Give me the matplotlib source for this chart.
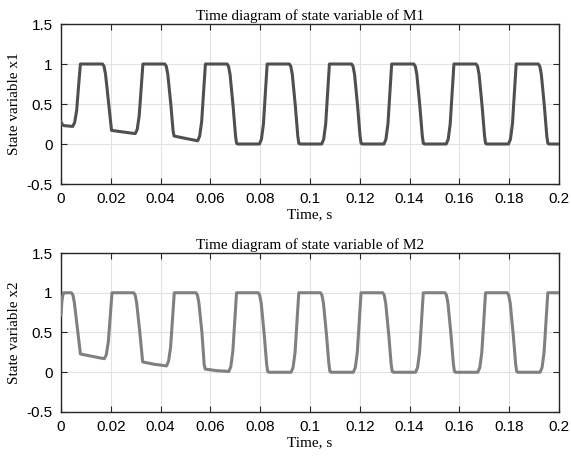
import numpy as np
import matplotlib
matplotlib.use('Agg')
import matplotlib.pyplot as plt

# Values: time (s) and state variable, edge by edge
t1 = [0.0, 0.0005, 0.0012,
      0.0047, 0.0055, 0.0063, 0.0070, 0.0078,
      0.0167, 0.0173, 0.0179, 0.0191, 0.0203, 0.0250,
      0.0298, 0.0306, 0.0314, 0.0321, 0.0329,
      0.0417, 0.0423, 0.0429, 0.0441, 0.0450, 0.0454, 0.0500,
      0.0549, 0.0557, 0.0565, 0.0572, 0.0580,
      0.0667, 0.0673, 0.0679, 0.0691, 0.0701, 0.0705, 0.0709,
      0.0797, 0.0805, 0.0813, 0.0820, 0.0828,
      0.0917, 0.0923, 0.0929, 0.0941, 0.0951, 0.0955, 0.0959,
      0.1047, 0.1055, 0.1063, 0.1070, 0.1078,
      0.1167, 0.1173, 0.1179, 0.1191, 0.1201, 0.1205, 0.1209,
      0.1297, 0.1305, 0.1313, 0.1320, 0.1328,
      0.1417, 0.1423, 0.1429, 0.1441, 0.1451, 0.1455, 0.1459,
      0.1547, 0.1555, 0.1563, 0.1570, 0.1578,
      0.1667, 0.1673, 0.1679, 0.1691, 0.1701, 0.1705, 0.1709,
      0.1797, 0.1805, 0.1813, 0.1820, 0.1828,
      0.1917, 0.1923, 0.1929, 0.1941, 0.1951, 0.1955, 0.1959,
      0.2000]
x1 = [0.28, 0.245, 0.23,
      0.22, 0.27, 0.42, 0.70, 1.0,
      1.0, 0.97, 0.87, 0.52, 0.17, 0.15,
      0.13, 0.18, 0.35, 0.65, 1.0,
      1.0, 0.97, 0.87, 0.50, 0.17, 0.10, 0.07,
      0.04, 0.10, 0.28, 0.62, 1.0,
      1.0, 0.97, 0.87, 0.48, 0.10, 0.01, 0.0,
      0.0, 0.06, 0.25, 0.60, 1.0,
      1.0, 0.97, 0.87, 0.48, 0.10, 0.01, 0.0,
      0.0, 0.06, 0.25, 0.60, 1.0,
      1.0, 0.97, 0.87, 0.48, 0.10, 0.01, 0.0,
      0.0, 0.06, 0.25, 0.60, 1.0,
      1.0, 0.97, 0.87, 0.48, 0.10, 0.01, 0.0,
      0.0, 0.06, 0.25, 0.60, 1.0,
      1.0, 0.97, 0.87, 0.48, 0.10, 0.01, 0.0,
      0.0, 0.06, 0.25, 0.60, 1.0,
      1.0, 0.97, 0.87, 0.48, 0.10, 0.01, 0.0,
      0.0]

t2 = [0.0, 0.0004, 0.0008, 0.0011,
      0.0042, 0.0048, 0.0054, 0.0066, 0.0078, 0.0125,
      0.0174, 0.0182, 0.0190, 0.0197, 0.0205,
      0.0292, 0.0298, 0.0304, 0.0316, 0.0328, 0.0375,
      0.0424, 0.0432, 0.0440, 0.0447, 0.0455,
      0.0542, 0.0548, 0.0554, 0.0566, 0.0575, 0.0579, 0.0625,
      0.0674, 0.0682, 0.0690, 0.0697, 0.0705,
      0.0792, 0.0798, 0.0804, 0.0816, 0.0826, 0.0830, 0.0834,
      0.0924, 0.0932, 0.0940, 0.0947, 0.0955,
      0.1042, 0.1048, 0.1054, 0.1066, 0.1076, 0.1080, 0.1084,
      0.1174, 0.1182, 0.1190, 0.1197, 0.1205,
      0.1292, 0.1298, 0.1304, 0.1316, 0.1326, 0.1330, 0.1334,
      0.1424, 0.1432, 0.1440, 0.1447, 0.1455,
      0.1542, 0.1548, 0.1554, 0.1566, 0.1576, 0.1580, 0.1584,
      0.1674, 0.1682, 0.1690, 0.1697, 0.1705,
      0.1792, 0.1798, 0.1804, 0.1816, 0.1826, 0.1830, 0.1834,
      0.1924, 0.1932, 0.1940, 0.1947, 0.1955,
      0.2000]
x2 = [0.72, 0.90, 0.98, 1.0,
      1.0, 0.97, 0.87, 0.55, 0.23, 0.20,
      0.17, 0.22, 0.38, 0.67, 1.0,
      1.0, 0.97, 0.87, 0.52, 0.13, 0.10,
      0.08, 0.14, 0.31, 0.63, 1.0,
      1.0, 0.97, 0.87, 0.50, 0.10, 0.04, 0.02,
      0.01, 0.07, 0.26, 0.60, 1.0,
      1.0, 0.97, 0.87, 0.48, 0.10, 0.01, 0.0,
      0.0, 0.06, 0.25, 0.60, 1.0,
      1.0, 0.97, 0.87, 0.48, 0.10, 0.01, 0.0,
      0.0, 0.06, 0.25, 0.60, 1.0,
      1.0, 0.97, 0.87, 0.48, 0.10, 0.01, 0.0,
      0.0, 0.06, 0.25, 0.60, 1.0,
      1.0, 0.97, 0.87, 0.48, 0.10, 0.01, 0.0,
      0.0, 0.06, 0.25, 0.60, 1.0,
      1.0, 0.97, 0.87, 0.48, 0.10, 0.01, 0.0,
      0.0, 0.06, 0.25, 0.60, 1.0,
      1.0]

xticks = [0, 0.02, 0.04, 0.06, 0.08, 0.1, 0.12, 0.14, 0.16, 0.18, 0.2]
xticklabels = ['0', '0.02', '0.04', '0.06', '0.08', '0.1', '0.12', '0.14', '0.16', '0.18', '0.2']
yticks = [-0.5, 0, 0.5, 1, 1.5]
yticklabels = ['-0.5', '0', '0.5', '1', '1.5']

titles = ['Time diagram of state variable of M1', 'Time diagram of state variable of M2']
ylabels = ['State variable x1', 'State variable x2']
colors = ['#4f4f4f', '#808080']

serif = ['Liberation Serif', 'DejaVu Serif']
sans = ['Liberation Sans', 'DejaVu Sans']

fig = plt.figure(figsize=(5.71, 4.59), dpi=100)
ax1 = fig.add_axes([0.1068, 0.5991, 0.8722, 0.3486])
ax2 = fig.add_axes([0.1068, 0.1024, 0.8722, 0.3464])

for ax, t, x, ttl, yl, c in zip([ax1, ax2], [t1, t2], [x1, x2], titles, ylabels, colors):
	ax.plot(t, x, color=c, linewidth=2.2, solid_joinstyle='round', zorder=3)
	ax.set_xlim(0, 0.2)
	ax.set_ylim(-0.5, 1.5)
	ax.set_xticks(xticks)
	ax.set_xticklabels(xticklabels, family=sans, fontsize=11)
	ax.set_yticks(yticks)
	ax.set_yticklabels(yticklabels, family=sans, fontsize=11)
	ax.tick_params(direction='in', length=4, width=0.8, color='#262626',
		top=True, right=True, pad=6)
	ax.grid(True, color='#e2e2e2', linewidth=0.8, zorder=0)
	for s in ax.spines.values():
		s.set_color('#262626')
		s.set_linewidth(1.0)
	ax.set_title(ttl, family=serif, fontsize=11, pad=3)
	ax.set_xlabel('Time, s', family=serif, fontsize=11, labelpad=1)
	ax.set_ylabel(yl, family=serif, fontsize=11, labelpad=4)

fig.savefig('out.png', dpi=100)
